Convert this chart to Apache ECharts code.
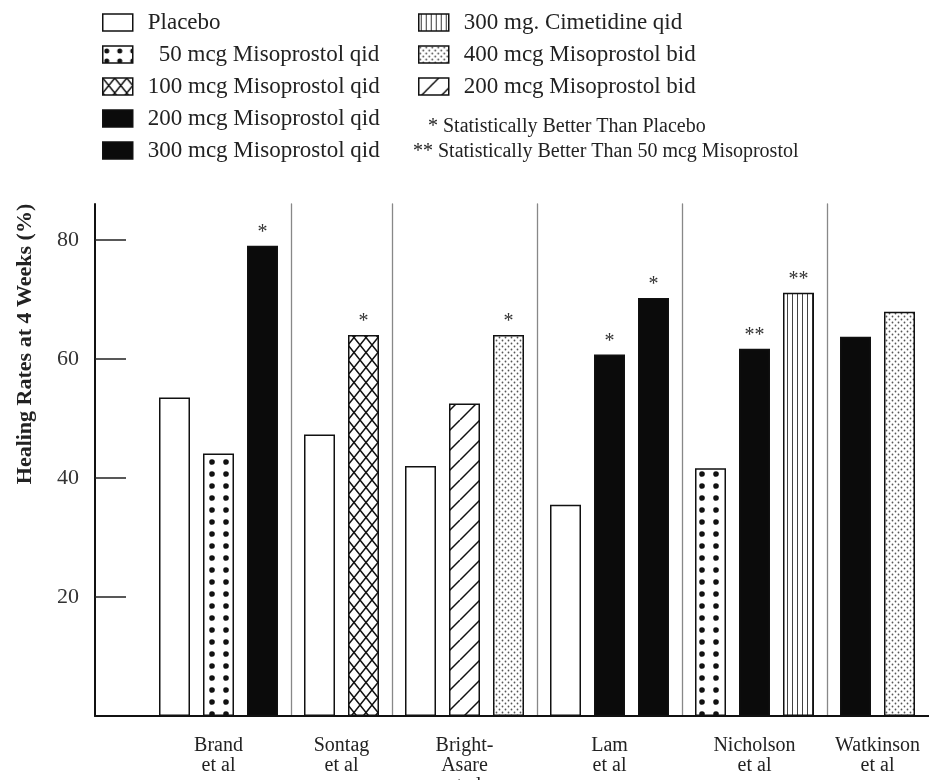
<!DOCTYPE html>
<html>
<head>
<meta charset="utf-8">
<script src="https://cdn.jsdelivr.net/npm/echarts@6/dist/echarts.min.js"></script>
<style>
  html, body { margin: 0; padding: 0; background: #fff; }
  #chart { width: 929px; height: 780px; }
</style>
</head>
<body>
<div id="chart"></div>
<script>
const SERIF = '"Liberation Serif", "Times New Roman", serif';

// Treatment arms, in legend order
const armNames = [
  'Placebo',
  '50 mcg Misoprostol qid',
  '100 mcg Misoprostol qid',
  '200 mcg Misoprostol qid',
  '300 mcg Misoprostol qid',
  '300 mg. Cimetidine qid',
  '400 mcg Misoprostol bid',
  '200 mcg Misoprostol bid'
];

// Study names shown under each group
const studyLabels = ['Brand\net al', 'Sontag\net al', 'Bright-\nAsare\net al', 'Lam\net al', 'Nicholson\net al', 'Watkinson\net al'];

// Healing rates (%) at 4 weeks per study arm, with significance marks
const brandArms = ['Placebo', '50 mcg Misoprostol qid', '200 mcg Misoprostol qid'];
const brandRates = [53.5, 44.1, 79.0];
const brandMarks = ['', '', '*'];

const sontagArms = ['Placebo', '100 mcg Misoprostol qid'];
const sontagRates = [47.3, 64.0];
const sontagMarks = ['', '*'];

const brightArms = ['Placebo', '200 mcg Misoprostol bid', '400 mcg Misoprostol bid'];
const brightRates = [42.0, 52.5, 64.0];
const brightMarks = ['', '', '*'];

const lamArms = ['Placebo', '200 mcg Misoprostol qid', '300 mcg Misoprostol qid'];
const lamRates = [35.5, 60.7, 70.2];
const lamMarks = ['', '*', '*'];

const nicholsonArms = ['50 mcg Misoprostol qid', '200 mcg Misoprostol qid', '300 mg. Cimetidine qid'];
const nicholsonRates = [41.6, 61.7, 71.1];
const nicholsonMarks = ['', '**', '**'];

const watkinsonArms = ['200 mcg Misoprostol qid', '400 mcg Misoprostol bid'];
const watkinsonRates = [63.7, 67.9];
const watkinsonMarks = ['', ''];

const yTicks = [20, 40, 60, 80];
const yTitle = 'Healing Rates at 4 Weeks (%)';
const footnotes = ['* Statistically Better Than Placebo', '** Statistically Better Than 50 mcg Misoprostol'];

// ---- fill patterns ----
function tile(w, h, draw) {
  const c = document.createElement('canvas');
  c.width = w; c.height = h;
  const g = c.getContext('2d');
  g.fillStyle = '#fff';
  g.fillRect(0, 0, w, h);
  g.strokeStyle = '#111';
  g.fillStyle = '#111';
  draw(g, w, h);
  return { image: c, repeat: 'repeat' };
}
function dot(g, x, y, r) { g.beginPath(); g.arc(x, y, r, 0, Math.PI * 2); g.fill(); }

const fills = {
  'Placebo': '#ffffff',
  // large dots, drawn twice so the dot wraps across the tile edge
  '50 mcg Misoprostol qid': tile(14, 12, (g, w) => { dot(g, 2, 6, 2.8); dot(g, 2 + w, 6, 2.8); }),
  '100 mcg Misoprostol qid': tile(12, 15, (g, w, h) => {
    g.lineWidth = 1.5;
    for (const dx of [-w, 0, w]) {
      g.beginPath();
      g.moveTo(dx, 0); g.lineTo(dx + w, h);
      g.moveTo(dx + w, 0); g.lineTo(dx, h);
      g.stroke();
    }
  }),
  '200 mcg Misoprostol qid': '#0b0b0b',
  '300 mcg Misoprostol qid': '#0b0b0b',
  '300 mg. Cimetidine qid': tile(5, 4, (g) => { g.fillStyle = '#444'; g.fillRect(2, 0, 1, 4); }),
  '400 mcg Misoprostol bid': tile(6, 6, (g) => { g.fillStyle = '#555'; dot(g, 1.5, 1.5, 0.9); dot(g, 4.5, 4.5, 0.9); }),
  '200 mcg Misoprostol bid': tile(20, 20, (g, w, h) => {
    g.lineWidth = 1.5;
    for (const dx of [-w, 0, w]) {
      g.beginPath(); g.moveTo(dx, h); g.lineTo(dx + w, 0); g.stroke();
    }
  })
};
// legend swatch for the large-dot fill: 2 x 2 dots inside the small box
const dotsSwatch = tile(13, 10, (g) => { dot(g, 4, 5, 2.5); });

const groups = [
  { label: studyLabels[0], arms: brandArms, rates: brandRates, marks: brandMarks },
  { label: studyLabels[1], arms: sontagArms, rates: sontagRates, marks: sontagMarks },
  { label: studyLabels[2], arms: brightArms, rates: brightRates, marks: brightMarks },
  { label: studyLabels[3], arms: lamArms, rates: lamRates, marks: lamMarks },
  { label: studyLabels[4], arms: nicholsonArms, rates: nicholsonRates, marks: nicholsonMarks },
  { label: studyLabels[5], arms: watkinsonArms, rates: watkinsonRates, marks: watkinsonMarks }
];

// ---- layout ----
const TOP = 204, BOTTOM = 64, Y_MAX = 86;
const SLOT = 44, BAR = 31, GAP = 13, FIRST_LEFT = 152.5;

const grids = [{ left: 95, right: 0, top: TOP, bottom: BOTTOM, containLabel: false, outerBoundsMode: 'none' }];
const xAxes = [{
  type: 'value', gridIndex: 0, min: 0, max: 1,
  axisLine: { show: true, lineStyle: { color: '#111', width: 2 } },
  axisTick: { show: false }, axisLabel: { show: false }, splitLine: { show: false }
}];
const yAxes = [{
  type: 'value', gridIndex: 0, min: 0, max: Y_MAX,
  axisLine: { show: true, lineStyle: { color: '#111', width: 2 } },
  axisTick: { show: true, inside: true, length: 31, customValues: yTicks, lineStyle: { color: '#222', width: 1.5 } },
  axisLabel: { show: true, customValues: yTicks, margin: 16, fontFamily: SERIF, fontSize: 22, color: '#333' },
  splitLine: { show: false }
}];
const series = [];

let left = FIRST_LEFT;
groups.forEach((grp, k) => {
  const idx = k + 1;
  const width = grp.arms.length * SLOT;
  grids.push({ left: left, width: width, top: TOP, bottom: BOTTOM, containLabel: false, outerBoundsMode: 'none' });
  xAxes.push({
    type: 'category', gridIndex: idx, data: grp.arms,
    axisLine: { show: false }, axisTick: { show: false }, axisLabel: { show: false },
    name: grp.label, nameLocation: 'middle', nameGap: 20,
    nameTextStyle: { fontFamily: SERIF, fontSize: 20, lineHeight: 20, color: '#222' }
  });
  yAxes.push({
    type: 'value', gridIndex: idx, min: 0, max: Y_MAX, offset: GAP / 2,
    axisLine: { show: k > 0, lineStyle: { color: '#888', width: 1.3 } },
    axisTick: { show: false }, axisLabel: { show: false }, splitLine: { show: false }
  });
  grp.arms.forEach((arm, i) => {
    series.push({
      type: 'bar', name: arm, xAxisIndex: idx, yAxisIndex: idx,
      stack: 'study' + k, barWidth: BAR,
      itemStyle: { color: fills[arm], borderColor: '#111', borderWidth: 1.5 },
      label: { position: 'top', distance: 3, fontFamily: SERIF, fontSize: 20, color: '#333' },
      data: grp.arms.map((_, j) => j === i
        ? { value: grp.rates[i], label: { show: grp.marks[i] !== '', formatter: grp.marks[i] } }
        : '-')
    });
  });
  left += width + GAP;
});

const legendText = {
  fontFamily: SERIF, fontSize: 23, lineHeight: 23, color: '#222',
  rich: {
    a: { fontFamily: SERIF, fontSize: 23, color: '#222', padding: [0, 0, 0, 10] },
    b: { fontFamily: SERIF, fontSize: 23, color: '#222', padding: [0, 0, 0, 21] }
  }
};
const legendFormatter = (name) => (name === '50 mcg Misoprostol qid' ? '{b|' : '{a|') + name + '}';
const legendBase = {
  orient: 'vertical', top: 6, itemWidth: 30, itemHeight: 17, itemGap: 9,
  icon: 'rect', selectedMode: false,
  itemStyle: { borderColor: '#111', borderWidth: 1.5 },
  textStyle: legendText, formatter: legendFormatter
};
const legendItems = armNames.map((n) => n === '50 mcg Misoprostol qid'
  ? { name: n, itemStyle: { color: dotsSwatch } }
  : { name: n });

const option = {
  backgroundColor: '#fff',
  animation: false,
  grid: grids,
  xAxis: xAxes,
  yAxis: yAxes,
  series: series,
  legend: [
    Object.assign({}, legendBase, { left: 97, data: legendItems.slice(0, 5) }),
    Object.assign({}, legendBase, { left: 413, data: legendItems.slice(5) })
  ],
  graphic: [
    {
      type: 'text', x: 25, y: 344, rotation: Math.PI / 2,
      style: { text: yTitle, font: 'bold 22px ' + SERIF, fill: '#222', align: 'center', verticalAlign: 'middle' }
    },
    { type: 'text', left: 428, top: 117, style: { text: footnotes[0], font: '20px ' + SERIF, fill: '#222' } },
    { type: 'text', left: 413, top: 142, style: { text: footnotes[1], font: '20px ' + SERIF, fill: '#222' } }
  ]
};

const chart = echarts.init(document.getElementById('chart'), null, { renderer: 'canvas' });
chart.setOption(option);
</script>
</body>
</html>
